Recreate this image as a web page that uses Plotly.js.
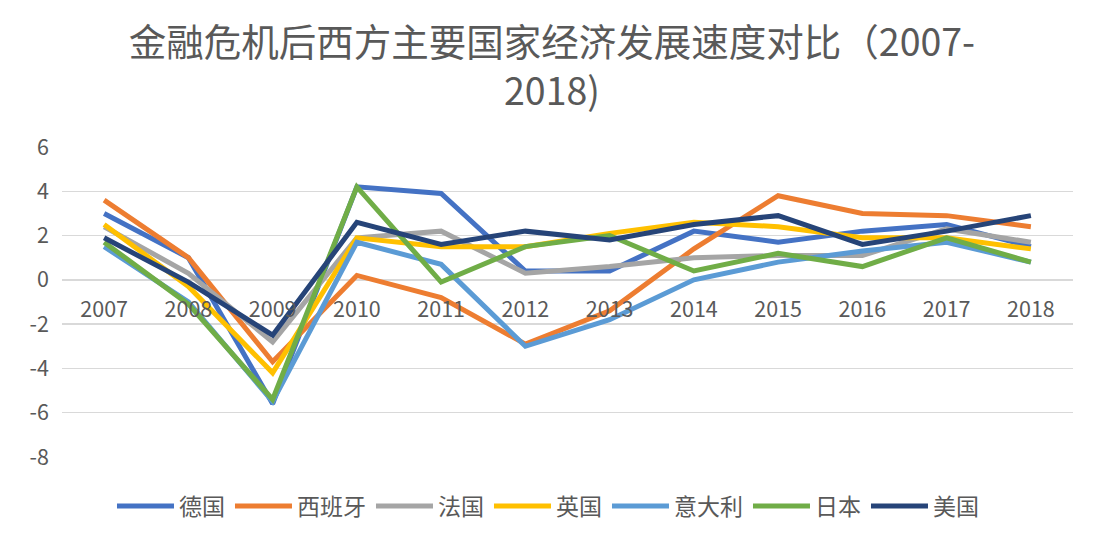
<!DOCTYPE html>
<html>
<head>
<meta charset="utf-8">
<script src="https://cdn.plot.ly/plotly-3.0.1.min.js"></script>
<style>html,body{margin:0;padding:0;background:#fff;}#chart{width:1104px;height:548px;}</style>
</head>
<body>
<div id="chart"></div>
<script>
const years = ['2007','2008','2009','2010','2011','2012','2013','2014','2015','2016','2017','2018'];
const seriesNames = ['德国','西班牙','法国','英国','意大利','日本','美国'];
const germany = [3.0, 1.0, -5.6, 4.2, 3.9, 0.4, 0.4, 2.2, 1.7, 2.2, 2.5, 1.5];
const spain   = [3.6, 1.0, -3.7, 0.2, -0.8, -2.9, -1.4, 1.4, 3.8, 3.0, 2.9, 2.4];
const france  = [2.4, 0.3, -2.8, 1.9, 2.2, 0.3, 0.6, 1.0, 1.1, 1.1, 2.3, 1.7];
const uk      = [2.5, -0.3, -4.2, 1.9, 1.5, 1.5, 2.1, 2.6, 2.4, 1.9, 1.9, 1.4];
const italy   = [1.5, -1.0, -5.5, 1.7, 0.7, -3.0, -1.8, 0.0, 0.8, 1.3, 1.7, 0.8];
const japan   = [1.7, -1.1, -5.4, 4.2, -0.1, 1.5, 2.0, 0.4, 1.2, 0.6, 1.9, 0.8];
const usa     = [1.9, -0.1, -2.5, 2.6, 1.6, 2.2, 1.8, 2.5, 2.9, 1.6, 2.2, 2.9];
const yTicks = [-8, -6, -4, -2, 0, 2, 4, 6];
const titleText = '金融危机后西方主要国家经济发展速度对比（2007-<br>2018)';

const colors = ['#4472C4','#ED7D31','#A5A5A5','#FFC000','#5B9BD5','#70AD47','#264478'];
const allData = [germany, spain, france, uk, italy, japan, usa];

const traces = allData.map((vals, i) => ({
  x: years, y: vals, name: seriesNames[i], type: 'scatter', mode: 'lines',
  line: {color: colors[i], width: 5, shape: 'linear'},
  hoverinfo: 'x+y+name'
}));

const fontFam = '"Noto Sans CJK SC", "Noto Sans", sans-serif';
const layout = {
  width: 1104, height: 548,
  margin: {l: 62, r: 31, t: 147, b: 91},
  paper_bgcolor: '#ffffff', plot_bgcolor: '#ffffff',
  font: {family: fontFam, color: '#595959', size: 21},
  title: {text: titleText, x: 0.5, xanchor: 'center', xref: 'container', y: 0.898, yanchor: 'top', yref: 'container',
          font: {family: fontFam, size: 37.5, color: '#595959'}},
  xaxis: {type: 'category', range: [-0.5, 11.5], anchor: 'free', position: 8/14,
          showgrid: false, showline: false, zeroline: false, ticks: '',
          tickfont: {size: 21.5, color: '#595959'}, ticklabelstandoff: 15, fixedrange: true},
  yaxis: {range: [-8, 6], tickvals: yTicks, ticktext: yTicks.map(String),
          showgrid: true, gridcolor: '#D9D9D9', gridwidth: 1.5, zeroline: false, showline: false,
          ticks: '', tickfont: {size: 21.5, color: '#595959'}, ticklabelstandoff: 12, fixedrange: true},
  showlegend: true,
  legend: {orientation: 'h', x: 0.4807, xanchor: 'center', y: -0.158, yanchor: 'middle',
           font: {size: 23, color: '#595959', family: fontFam}, itemwidth: 57, tracegroupgap: 0},
};

Plotly.newPlot('chart', traces, layout, {displayModeBar: false, staticPlot: true});
</script>
</body>
</html>
